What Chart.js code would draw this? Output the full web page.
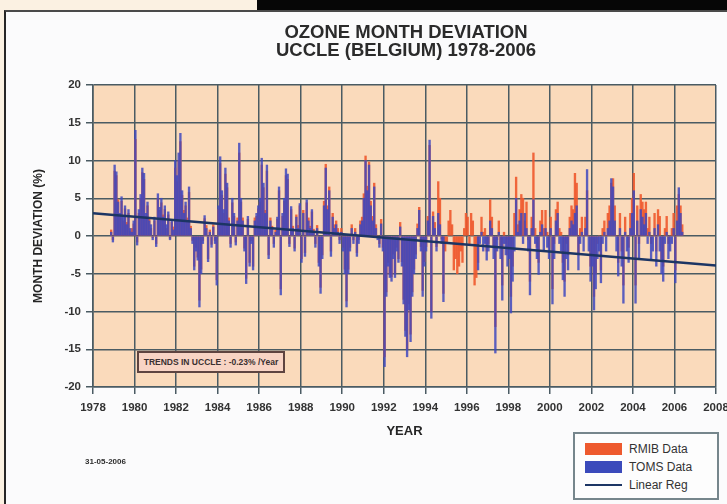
<!DOCTYPE html>
<html>
<head>
<meta charset="utf-8">
<script src="https://cdn.jsdelivr.net/npm/chart.js@4.4.1/dist/chart.umd.min.js"></script>
<style>
  html, body { margin: 0; padding: 0; width: 727px; height: 504px; overflow: hidden;
    background: #fbf1e2; font-family: "Liberation Sans", Arial, sans-serif; }
  #topband { position: absolute; left: 257px; top: 0; width: 470px; height: 10px; background: #060606; }
  #panel { position: absolute; left: 4px; top: 10px; width: 760px; height: 500px; background: #fbfbfc;
    border-left: 2px solid #262626; border-top: 2px solid #4a4a4a; }
  #chart { position: absolute; left: 0; top: 0; }
  #title { position: absolute; left: 0; top: 23px; width: 812px; text-align: center; font-weight: bold;
    font-size: 18.5px; line-height: 18px; color: #2b2b2b; }
  #trend { position: absolute; left: 137px; top: 351px; width: 144px; height: 18px; border: 2px solid #5e4440;
    background: #f8d4c4; font-size: 8.5px; font-weight: bold; line-height: 18px; text-align: center; color: #3a3030;
    white-space: nowrap; }
  #stamp { position: absolute; left: 85px; top: 457px; font-size: 8px; font-weight: bold; color: #2e2e2e; }
  #legend { position: absolute; left: 573px; top: 432px; width: 142px; height: 64px; border: 2px solid #76868c;
    background: #fdfdfd; }
  .row { position: absolute; left: 10px; height: 18px; width: 140px; }
  .sw { position: absolute; left: 0; width: 37px; }
  .lbl { position: absolute; left: 44px; top: 0; line-height: 18px; font-size: 12px; color: #333; white-space: nowrap; }
</style>
</head>
<body>
<div id="topband"></div>
<div id="panel"></div>
<canvas id="chart" width="760" height="504"></canvas>
<div id="title">OZONE MONTH DEVIATION<br>UCCLE (BELGIUM) 1978-2006</div>
<div id="trend">TRENDS IN UCCLE : -0.23% /Year</div>
<div id="stamp">31-05-2006</div>
<div id="legend">
  <div class="row" style="top:6px"><div class="sw" style="top:3px;height:12px;background:#ee5a2e"></div><div class="lbl">RMIB Data</div></div>
  <div class="row" style="top:24px"><div class="sw" style="top:3px;height:12px;background:#3b4abb"></div><div class="lbl">TOMS Data</div></div>
  <div class="row" style="top:42px"><div class="sw" style="top:8px;height:2px;background:#1c3564"></div><div class="lbl">Linear Reg</div></div>
</div>
<script>
// Monthly ozone deviations (%) at Uccle, first value = November 1978
const startYear = 1978;
const startMonth = 11;

const tomsValues = [
  0.5, -0.8,
  9.4, 8.5, 4.5, 3.0, 5.2, 2.5, 4.0, 1.5, 3.5, 1.0, 0.5, 2.0,
  14.0, -1.2, 3.5, 5.5, 9.0, 8.3, 3.0, 4.5, 2.0, 1.5, -0.5, 2.5,
  -1.4, 5.6, 3.8, 5.0, 2.5, 4.0, 1.5, 3.2, -0.5, 2.2, 0.8, 10.0,
  8.0, 11.0, 13.6, 6.0, 3.0, 4.5, 2.0, 6.5, 1.0, -1.0, -4.5, -2.0,
  -3.2, -9.4, -5.0, -1.0, 2.7, 1.0, -3.4, 0.5, -1.5, 1.2, -1.0, -6.5,
  4.0, 10.5, 6.0, 3.5, 9.0, 7.0, 2.0, -1.5, 5.0, 3.0, -1.2, 2.0,
  12.3, 5.0, 2.0, -2.0, -6.3, 2.6, -4.0, -1.0, -4.5, 2.0, 3.0, 4.0,
  5.0, 10.3, 7.0, 3.0, 9.4, -3.0, 2.0, 1.0, -1.5, 0.5, 2.5, 6.5,
  -7.8, 3.0, 5.0, 8.9, 8.2, -1.4, 3.9, 1.0, -2.0, 2.5, 1.0, 4.3,
  -3.5, 3.0, -2.7, 4.8, 2.0, 1.0, 3.5, 0.5, -1.5, 1.0, -4.0, -7.6,
  -3.0, 4.0, 9.0, 3.5, 6.0, -2.7, 2.5, 1.0, 1.5, 0.5, -1.0, 0.5,
  -2.0, -5.0, -9.4, -5.0, -2.0, 1.0, -1.0, 0.5, -2.7, -1.0, 1.5, 2.0,
  5.0, 10.0, 6.0, 9.4, 4.0, 2.0, 6.5, 1.0, -0.5, -1.5, 1.6, -2.0,
  -17.3, -8.0, -4.0, -5.5, -6.0, -3.0, -5.5, -2.0, -3.5, 1.2, -4.0, -9.0,
  -13.3, -16.0, -9.8, -14.0, -8.0, -5.0, -3.0, 1.0, 3.4, -2.0, -8.0, -4.0,
  -2.0, 2.0, 12.7, -10.9, 2.6, 1.0, -2.0, 3.0, 1.5, -1.0, -8.7, null,
  null, null, null, null, null, null, null, null, null, null, null, null,
  null, null, null, null, null, null, -4.5, -1.0, 0.5, -2.0, -1.0, -3.2,
  -2.0, 2.0, 1.0, -3.0, -15.5, -2.0, 0.5, -3.0, -8.5, -1.0, -2.5, -4.0,
  -3.0, -10.2, -6.0, -2.0, 5.0, 0.5, 2.0, 3.0, -1.0, 3.0, 1.0, -2.0,
  -7.8, 1.0, 4.8, -1.0, -3.0, -5.1, 0.5, 1.5, -2.0, 1.0, -1.5, -3.0,
  1.0, -9.0, -3.0, 2.0, 3.0, -1.0, -2.0, -5.8, -8.0, -3.0, -4.5, 1.0,
  2.0, 1.5, 3.0, 4.0, -4.5, -1.0, 0.5, -2.0, 1.0, 8.8, -2.0, -6.0,
  -4.0, -9.8, -7.0, -3.0, -2.0, -6.2, -1.0, 0.5, -2.0, 1.0, 2.0, 7.6,
  6.5, 2.0, -2.0, -5.3, 1.0, -4.0, -8.9, 0.5, -2.0, -3.5, 1.0, 3.0,
  6.0, -8.9, 2.0, -3.0, 3.5, 2.5, 1.5, 3.0, -1.0, 0.5, -3.0, -2.0,
  1.0, -4.0, 1.5, -2.0, -5.0, -6.0, -1.0, 0.5, -3.0, -2.0, -1.0, 1.0,
  -6.2, 2.0, 6.4, 3.0, 0.5
];

const rmibValues = [
  0.8, -0.5,
  8.6, 8.0, 4.8, 2.6, 4.6, 2.0, 3.6, 1.8, 3.0, 0.6, 1.0, 1.6,
  12.8, -0.8, 3.0, 5.0, 8.4, 7.5, 2.6, 4.0, 2.4, 1.0, -0.2, 2.0,
  -1.0, 5.0, 3.4, 4.4, 2.8, 3.5, 1.0, 2.8, -0.3, 1.8, 1.2, 9.0,
  7.2, 10.0, 12.5, 5.4, 3.4, 4.0, 2.4, 5.8, 1.3, -0.6, -4.0, -1.5,
  -2.8, -8.5, -4.4, -0.6, 2.3, 1.4, -3.0, 0.8, -1.1, 1.5, -0.6, -5.8,
  3.5, 9.6, 5.4, 3.0, 8.2, 6.4, 2.4, -1.0, 4.4, 2.6, -0.8, 2.4,
  11.0, 4.5, 2.4, -1.6, -5.6, 2.2, -3.5, -0.6, -4.0, 2.4, 2.6, 3.6,
  4.5, 9.4, 6.4, 3.4, 8.6, -2.5, 2.4, 1.3, -1.0, 0.8, 2.2, 6.0,
  -7.0, 2.6, 4.6, 8.0, 7.5, -1.0, 3.5, 1.3, -1.6, 2.8, 1.4, 4.0,
  -3.0, 3.4, -2.2, 4.4, 2.4, 1.3, 3.2, 0.9, -1.0, 1.4, -3.5, -6.8,
  -2.5, 4.6, 9.5, 4.0, 6.5, -2.0, 3.0, 1.5, 2.0, 1.0, -0.5, 1.0,
  -1.5, -4.4, -8.6, -4.4, -1.5, 1.5, -0.5, 1.0, -2.2, -0.5, 2.0, 2.5,
  5.6, 10.6, 6.6, 9.8, 4.6, 2.6, 7.0, 1.5, 0.0, -1.0, 2.2, -1.5,
  -16.0, -7.4, -3.5, -5.0, -5.4, -2.4, -5.0, -1.5, -3.0, 1.8, -3.4, -8.4,
  -12.5, -15.0, -9.0, -13.0, -7.4, -4.4, -2.4, 1.6, 3.8, -1.4, -7.2, -3.4,
  -1.4, 2.6, 12.0, -10.0, 3.2, 1.8, -1.4, 7.2, 5.0, -0.4, -7.6, -2.0,
  -1.0, 2.0, 3.4, 1.5, -4.5, -3.0, -5.0, -4.0, -2.0, -3.5, 1.0, 3.0,
  2.5, -1.0, 3.0, 2.0, -6.5, -5.5, -3.5, 0.0, 2.5, 0.5, 1.0, -2.0,
  -1.0, 4.8, 2.5, -1.5, -12.0, -0.5, 2.0, -1.5, -6.5, 0.5, -1.0, -2.5,
  -1.5, -8.0, -4.0, 3.0, 7.8, 1.5, 3.5, 5.5, 5.0, 2.0, 4.5, -0.5,
  -6.0, 2.5, 11.0, 1.0, -1.5, -3.5, 2.0, 3.4, 1.0, 3.4, 0.5, -1.5,
  2.5, -7.0, -1.0, 3.5, 4.5, 1.0, 0.5, -3.5, -6.0, -1.0, -2.5, 2.5,
  4.0, 3.5, 8.3, 7.0, -2.5, 1.0, 2.5, 0.0, 2.5, 6.0, 0.0, -4.0,
  -2.5, -8.0, -5.0, -1.0, 0.0, -4.5, 1.0, 2.0, 0.0, 3.0, 4.0, 7.0,
  7.6, 4.0, 0.0, -3.5, 3.0, -2.0, -6.5, 2.5, 0.0, -1.5, 3.0, 5.0,
  8.3, -6.5, 4.0, -1.0, 5.5, 4.5, 3.5, 4.5, 1.0, 2.5, -1.0, 0.0,
  3.0, -2.0, 3.5, 2.6, -3.0, -4.0, 1.0, 2.6, -1.0, 0.0, 1.0, 3.0,
  -4.5, 4.0, 5.5, 4.0, 1.5
];

// Linear regression of the monthly deviations
const trendSlope = -0.23;     // % per year
const trendAtStart = 3.0;     // % in 1978
const trendYears = [1978, 2008];

const yearTicks = { min: 1978, max: 2008, step: 2 };
const deviationTicks = { min: -20, max: 20, step: 5 };

function monthPoints(values) {
  return values.map((v, i) => ({ x: startYear + (startMonth - 1 + i + 0.5) / 12, y: v }));
}
const trendPoints = trendYears.map(yr => ({ x: yr, y: trendAtStart + trendSlope * (yr - trendYears[0]) }));

const gridColor = '#4a5b63';
const fontFamily = '"Liberation Sans", Arial, sans-serif';
const tickFont = { family: fontFamily, size: 11.5, weight: 'bold' };

const plotBackground = {
  id: 'plotBackground',
  beforeDraw(chart) {
    const { ctx, chartArea: a } = chart;
    ctx.save();
    ctx.fillStyle = '#fadabb';
    ctx.fillRect(a.left, a.top, a.right - a.left, a.bottom - a.top);
    ctx.restore();
  }
};

new Chart(document.getElementById('chart'), {
  type: 'bar',
  data: {
    datasets: [
      { type: 'line', label: 'Linear Reg', data: trendPoints, borderColor: '#1c3564', borderWidth: 2.5,
        pointRadius: 0, order: 0 },
      { label: 'TOMS Data', data: monthPoints(tomsValues), backgroundColor: 'rgba(62,72,190,0.85)',
        barThickness: 1.7, grouped: false, order: 1 },
      { label: 'RMIB Data', data: monthPoints(rmibValues), backgroundColor: 'rgba(238,88,44,0.9)',
        barThickness: 1.7, grouped: false, order: 2 }
    ]
  },
  options: {
    responsive: false,
    animation: false,
    layout: { padding: { left: 28, top: 85, right: 44, bottom: 65 } },
    plugins: { legend: { display: false }, title: { display: false }, tooltip: { enabled: false } },
    scales: {
      x: {
        type: 'linear', min: yearTicks.min, max: yearTicks.max, offset: false,
        grid: { offset: false, color: gridColor, lineWidth: 1.5, tickLength: 7 },
        border: { color: gridColor, width: 1.6 },
        ticks: { stepSize: yearTicks.step, callback: v => String(v), font: tickFont, color: '#333',
          padding: 7, maxRotation: 0, autoSkip: false },
        title: { display: true, text: 'YEAR', font: { family: fontFamily, size: 13, weight: 'bold' }, color: '#252525',
          padding: { top: 4, bottom: 0 } },
        afterFit(s) { s.height = 52; }
      },
      y: {
        min: deviationTicks.min, max: deviationTicks.max,
        grid: { color: gridColor, lineWidth: 1.5, tickLength: 7 },
        border: { color: gridColor, width: 1.6 },
        ticks: { stepSize: deviationTicks.step, font: tickFont, color: '#333', padding: 5 },
        title: { display: true, text: 'MONTH DEVIATION (%)', font: { family: fontFamily, size: 12, weight: 'bold' },
          color: '#252525', padding: { top: 3, bottom: 3 } },
        afterFit(s) { s.width = 65; }
      }
    }
  },
  plugins: [plotBackground]
});
</script>
</body>
</html>
